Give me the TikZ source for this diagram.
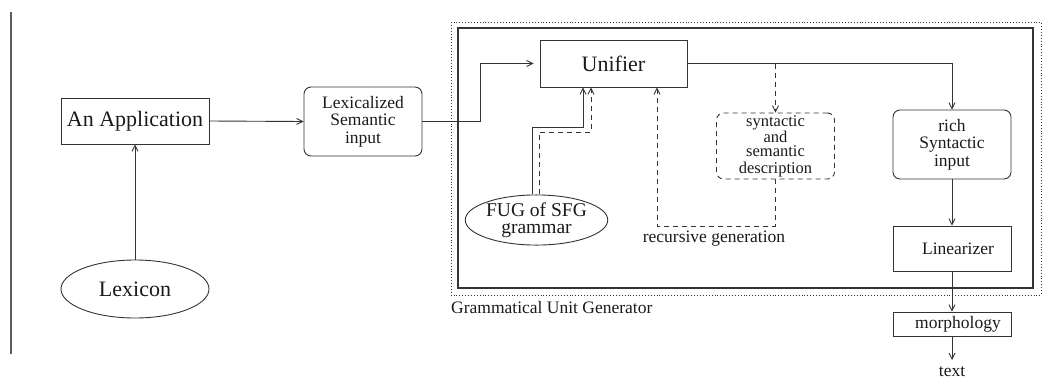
\documentclass[tikz,border=0pt]{standalone}
\usepackage{fontspec}
\setmainfont{Liberation Serif}
\usetikzlibrary{shapes.geometric,arrows.meta,calc}
\definecolor{ln}{HTML}{333333}
\definecolor{tx}{HTML}{1A1A1A}
\begin{document}
\begin{tikzpicture}[x=1pt,y=-1pt,
  every node/.style={text=tx,inner sep=0pt},
  >={Straight Barb[length=6pt,width=6pt]},
  conn/.style={draw=ln,line width=0.9pt},
  box/.style={draw=ln,line width=0.9pt,rectangle,align=center},
  rbox/.style={box,rounded corners=7pt},
  big/.style={font=\fontsize{22}{22}\selectfont},
  med/.style={font=\fontsize{17.5}{17.5}\selectfont},
  oval/.style={draw=ln,line width=0.9pt,ellipse,align=center}]
\useasboundingbox (0,0) rectangle (1062,383);
% left rule
\draw[draw=ln!80,line width=1.2pt] (11,12) -- (11,354);
% frames
\draw[ln,dotted,line width=0.9pt] (451,22) rectangle (1041,295);
\draw[ln,line width=2pt] (458,28) rectangle (1033,288);
\node[med,anchor=west] (gug) at (451,308) {Grammatical Unit Generator};
% nodes
\node[box,big,minimum width=148,minimum height=46] (app) at (135,121) {An Application};
\node[oval,big,minimum width=148,minimum height=58] (lex) at (135,289) {Lexicon};
\node[rbox,med,minimum width=118,minimum height=69] (lexsem) at (363,121.5) {Lexicalized\\Semantic\\input};
\node[box,big,minimum width=147,minimum height=47] (unif) at (613.5,63.5) {Unifier};
\node[oval,minimum width=141,minimum height=46,font=\fontsize{19.5}{17.5}\selectfont] (fug) at (536.5,220) {FUG of SFG\\grammar};
\node[rbox,dashed,dash pattern=on 5pt off 4pt,minimum width=118,minimum height=66,font=\fontsize{16.5}{14.5}\selectfont] (syn) at (775.5,146) {syntactic\\and\\semantic\\[2pt]description};
\node[rbox,med,minimum width=118,minimum height=69] (rich) at (952,144.5) {rich\\Syntactic\\input};
\node[box,med,minimum width=118,minimum height=45] (lin) at (952,248.5) {\hspace*{12pt}Linearizer};
\node[box,med,minimum width=118,minimum height=24] (morph) at (952,324) {\hspace*{12pt}morphology};
\node[med] (txt) at (952,372) {text};
\node[med] (rec) at (714,239) {recursive generation};
% coordinates
\coordinate (k1) at (480,121.5);
\coordinate (s1) at (532,127);
\coordinate (s2) at (583,127);
\coordinate (d1) at (539,132);
\coordinate (d2) at (591,132);
\coordinate (r1) at (657,226);
\coordinate (tend) at (952,360);
% connectors
\draw[conn,->] (lex.north) -- (app.south);
\draw[conn,->] (app.east) -- (lexsem.west);
\draw[conn,->,shorten >=6pt] (lexsem.east) -- (k1) |- (unif.west);
\draw[conn,->] (unif.east) -| (rich.north);
\draw[conn,->,dashed,dash pattern=on 5pt off 4pt] (syn.north |- unif.east) -- (syn.north);
\draw[conn,->,dashed,dash pattern=on 5pt off 4pt] (syn.south) -- (syn.south |- r1) -- (r1) -- (r1 |- unif.south);
\draw[conn,->] (s1 |- fug.north) -- (s1) -- (s2) -- (s2 |- unif.south);
\draw[conn,->,dashed,dash pattern=on 5pt off 4pt] (d1 |- fug.north) -- (d1) -- (d2) -- (d2 |- unif.south);
\draw[conn,->] (rich.south) -- (lin.north);
\draw[conn,->] (lin.south) -- (morph.north);
\draw[conn,->] (morph.south) -- (tend);
\end{tikzpicture}
\end{document}
